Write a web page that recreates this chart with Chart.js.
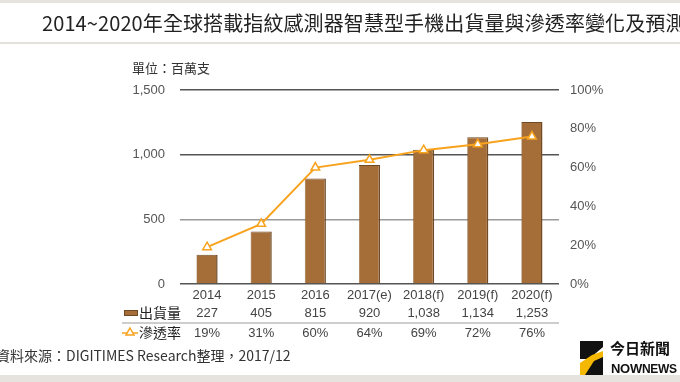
<!DOCTYPE html>
<html><head><meta charset="utf-8">
<script src="https://cdn.jsdelivr.net/npm/chart.js@4/dist/chart.umd.min.js"></script>
<style>
html,body{margin:0;padding:0;background:#fff;}
#wrap{position:relative;width:680px;height:382px;overflow:hidden;background:#fff;}
canvas{position:absolute;left:0;top:0;}
.t{position:absolute;white-space:nowrap;}
#topband{position:absolute;left:0;top:0;width:680px;height:3px;background:#e6e3df;}
#topline{position:absolute;left:0;top:42px;width:680px;height:2px;background:#e4e1dd;}
#botband{position:absolute;left:0;top:375px;width:680px;height:7px;background:#e6e3df;}
#title{left:42px;top:8px;font:20px "Noto Sans CJK TC",sans-serif;color:#222;letter-spacing:0.1px;}
#unit{left:132px;top:58px;font:13px "Noto Sans CJK TC",sans-serif;color:#333;}
#src{left:-4px;top:345px;font:14px "Noto Sans CJK TC","Liberation Sans",sans-serif;color:#333;}
#logo1{left:610px;top:337px;font:bold 15px "Noto Sans CJK TC",sans-serif;color:#111;letter-spacing:0px;}
#logo2{left:611px;top:361px;font:bold 12px "Liberation Sans Narrow","Liberation Sans",sans-serif;color:#111;letter-spacing:-0.3px;}
#icon{position:absolute;left:580px;top:341px;width:23px;height:34px;}
</style></head>
<body>
<div id="wrap">
<canvas id="c" width="680" height="382"></canvas>
<div id="topband"></div><div id="topline"></div><div id="botband"></div>
<div class="t" id="title">2014~2020年全球搭載指紋感測器智慧型手機出貨量與滲透率變化及預測</div>
<div class="t" id="unit">單位：百萬支</div>
<div class="t" id="src">資料來源：DIGITIMES Research整理，2017/12</div>
<svg id="icon" viewBox="0 0 23 34"><polygon points="0,0 23,0 23,6 9,18 0,18" fill="#111"/><polygon points="0,22 12,14 23,10 23,34 0,34" fill="#f5b800"/><polygon points="5,34 14,20 23,16 23,34" fill="#111"/></svg>
<div class="t" id="logo1">今日新聞</div>
<div class="t" id="logo2"><span style="font-size:13px">NOW</span>NEWS</div>
</div>
<script>
const categories = ['2014','2015','2016','2017(e)','2018(f)','2019(f)','2020(f)'];
const shipments = [227, 405, 815, 920, 1038, 1134, 1253];
const penetration = [19, 31, 60, 64, 69, 72, 76];
const leftTicks = [0, 500, 1000, 1500];
const rightTicks = [0, 20, 40, 60, 80, 100];
const seriesNames = ['出貨量', '滲透率'];

const BAR = '#A56E38', BAR_EDGE = '#6F4A25', LINE = '#F8A21D';
const numFont = "'Liberation Sans','DejaVu Sans',sans-serif";
const cjkFont = "'Noto Sans CJK TC',sans-serif";

const tablePlugin = {
  id: 'table',
  afterDraw(chart) {
    const ctx = chart.ctx, x = chart.scales.x;
    const area = chart.chartArea;
    ctx.save();
    ctx.strokeStyle = '#bdbdbd'; ctx.lineWidth = 1.5;
    ctx.beginPath(); ctx.moveTo(122, 323); ctx.lineTo(area.right, 323); ctx.stroke();
    ctx.font = '13px ' + numFont; ctx.fillStyle = '#444';
    ctx.textAlign = 'center'; ctx.textBaseline = 'middle';
    shipments.forEach((v, i) => {
      const px = x.getPixelForValue(i);
      ctx.fillText(v.toLocaleString('en-US'), px, 313);
      ctx.fillText(penetration[i] + '%', px, 333);
    });
    ctx.fillStyle = BAR; ctx.strokeStyle = BAR_EDGE; ctx.lineWidth = 1;
    ctx.fillRect(124.5, 310.5, 13, 5); ctx.strokeRect(124.5, 310.5, 13, 5);
    ctx.strokeStyle = LINE; ctx.lineWidth = 1.5;
    ctx.beginPath(); ctx.moveTo(122, 333); ctx.lineTo(138, 333); ctx.stroke();
    ctx.fillStyle = '#fff';
    ctx.beginPath(); ctx.moveTo(130, 328); ctx.lineTo(134, 335); ctx.lineTo(126, 335); ctx.closePath();
    ctx.fill(); ctx.stroke();
    ctx.font = '14px ' + cjkFont; ctx.fillStyle = '#222'; ctx.textAlign = 'left';
    ctx.fillText(seriesNames[0], 139, 313);
    ctx.fillText(seriesNames[1], 139, 333);
    ctx.restore();
  }
};

Chart.defaults.font.family = numFont;
Chart.defaults.font.size = 13;
Chart.defaults.color = '#555';

new Chart(document.getElementById('c'), {
  data: {
    labels: categories,
    datasets: [
      { type: 'line', label: seriesNames[1], data: penetration, yAxisID: 'y1', order: 0,
        borderColor: LINE, borderWidth: 2, pointStyle: 'triangle', pointRadius: 5,
        pointBackgroundColor: '#fff', pointBorderColor: LINE, pointBorderWidth: 1.5, tension: 0 },
      { type: 'bar', label: seriesNames[0], data: shipments, yAxisID: 'y', order: 1,
        backgroundColor: BAR, borderColor: BAR_EDGE, borderWidth: {left:0.5, right:1.5, top:1, bottom:0},
        categoryPercentage: 1, barPercentage: 0.39 }
    ]
  },
  options: {
    responsive: false, animation: false, devicePixelRatio: 1,
    layout: { padding: { top: 90, left: 0, right: 0, bottom: 0 } },
    plugins: { legend: { display: false }, tooltip: { enabled: false } },
    scales: {
      x: { type: 'category', offset: true,
        grid: { display: false, drawTicks: false }, border: { display: false },
        ticks: { color: '#444', padding: 4, font: { size: 13 }, maxRotation: 0, autoSkip: false },
        afterFit(s) { s.height = 98; } },
      y: { position: 'left', min: 0, max: 1500,
        afterBuildTicks(s) { s.ticks = leftTicks.map(v => ({ value: v })); },
        grid: { drawTicks: false, lineWidth: 1.5,
          color: c => c.tick.value === 500 ? '#9a9a9a' : '#555' },
        border: { display: false },
        ticks: { padding: 15, color: '#555', callback: v => v.toLocaleString('en-US') },
        afterFit(s) { s.width = 180; } },
      y1: { position: 'right', min: 0, max: 100,
        afterBuildTicks(s) { s.ticks = rightTicks.map(v => ({ value: v })); },
        grid: { display: false, drawTicks: false }, border: { display: false },
        ticks: { padding: 11, color: '#555', callback: v => v + '%' },
        afterFit(s) { s.width = 121; } }
    }
  },
  plugins: [tablePlugin]
});
</script>
</body></html>
